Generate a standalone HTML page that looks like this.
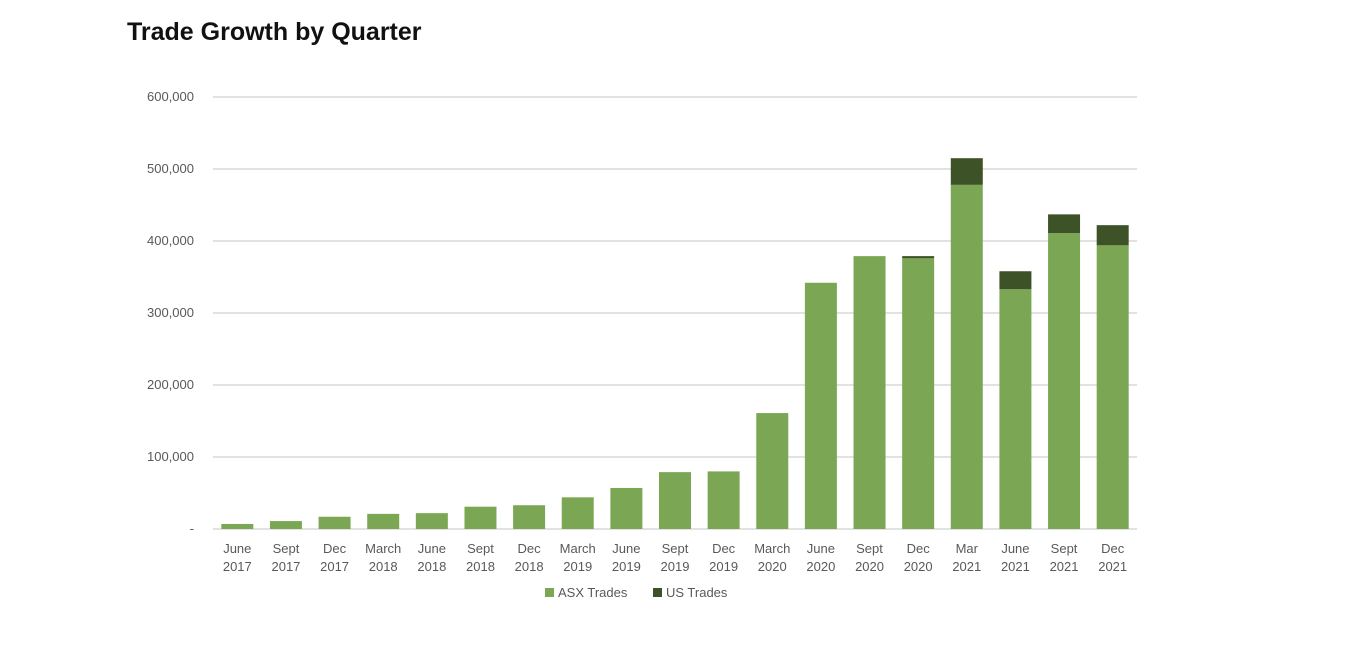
<!DOCTYPE html>
<html><head><meta charset="utf-8"><style>
body{margin:0;background:#fff;width:1362px;height:671px;overflow:hidden;font-family:"Liberation Sans",sans-serif}
h1{position:absolute;left:127px;top:18px;margin:0;font-size:25px;font-weight:bold;color:#111}
</style></head><body>
<h1>Trade Growth by Quarter</h1>
<svg id="c" width="1362" height="671" style="position:absolute;left:0;top:0"></svg>
<script>
const categories=[["June","2017"],["Sept","2017"],["Dec","2017"],["March","2018"],["June","2018"],["Sept","2018"],["Dec","2018"],["March","2019"],["June","2019"],["Sept","2019"],["Dec","2019"],["March","2020"],["June","2020"],["Sept","2020"],["Dec","2020"],["Mar","2021"],["June","2021"],["Sept","2021"],["Dec","2021"]];
const asxTrades=[7000,11000,17000,21000,22000,31000,33000,44000,57000,79000,80000,161000,342000,379000,376000,478000,333000,411000,394000];
const usTrades=[0,0,0,0,0,0,0,0,0,0,0,0,0,0,3000,37000,25000,26000,28000];
const yTicks=[0,100000,200000,300000,400000,500000,600000];
const yTickLabels=["-","100,000","200,000","300,000","400,000","500,000","600,000"];
const svg=document.getElementById('c');const NS='http://www.w3.org/2000/svg';
const x0=213,x1=1137,y0=529,y1=97,yMax=600000;
const y=v=>y0-(v/yMax)*(y0-y1);
const step=(x1-x0)/categories.length;
const xc=i=>x0+step*(i+0.5);
const bw=32;
function mk(t,a,p){const e=document.createElementNS(NS,t);for(const k in a)e.setAttribute(k,a[k]);(p||svg).appendChild(e);return e;}
yTicks.forEach((v,i)=>{
 const l=mk('line',{x1:x0,x2:x1,y1:y(v),y2:y(v),stroke:'#d9d9d9','stroke-width':1.5});
 
 
 const t=mk('text',{x:194,y:y(v)+4,'text-anchor':'end','font-size':13,fill:'#595959'});
 t.textContent=yTickLabels[i];
 
 
});
categories.forEach((c,i)=>{
 const a=mk('rect',{x:xc(i)-bw/2,y:y(asxTrades[i]),width:bw,height:y(0)-y(asxTrades[i]),fill:'#7ba755'});
 
 
 if(usTrades[i]>0){
  const b=mk('rect',{x:xc(i)-bw/2,y:y(asxTrades[i]+usTrades[i]),width:bw,height:y(asxTrades[i])-y(asxTrades[i]+usTrades[i]),fill:'#3e5228'});
  
  
 }
 c.forEach((s,j)=>{
  const t=mk('text',{x:xc(i),y:553+j*18,'text-anchor':'middle','font-size':13,fill:'#595959'});
  t.textContent=s;
  
  
 });
});
const leg=[["ASX Trades","#7ba755",545],["US Trades","#3e5228",653]];
leg.forEach(l=>{
 const r=mk('rect',{x:l[2],y:588,width:9,height:9,fill:l[1]});
 
 
 const t=mk('text',{x:l[2]+13,y:597,'font-size':13,fill:'#595959'});
 t.textContent=l[0];
 
 
});
</script>
</body></html>
